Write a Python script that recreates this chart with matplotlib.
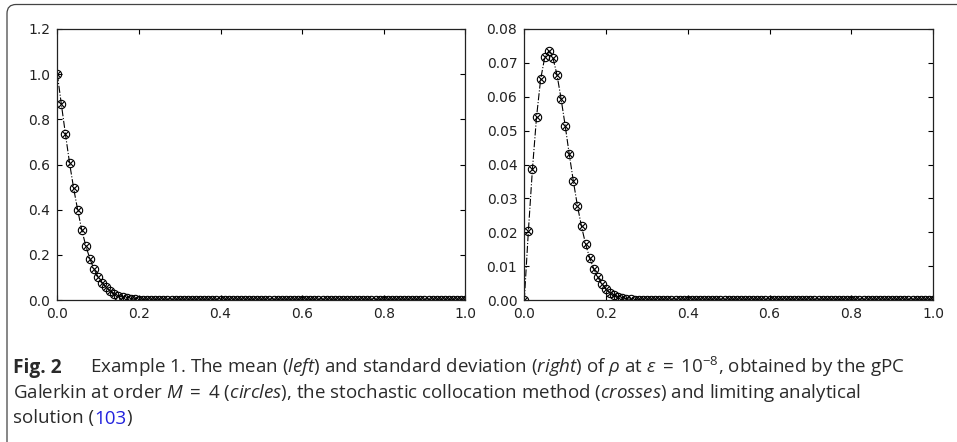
import numpy as np
import matplotlib
matplotlib.use("Agg")
import matplotlib.pyplot as plt
from matplotlib.patches import FancyBboxPatch
from matplotlib.transforms import IdentityTransform

plt.rcParams['mathtext.fontset'] = 'custom'
plt.rcParams['mathtext.rm'] = 'Open Sans'
plt.rcParams['mathtext.it'] = 'Open Sans:italic'
plt.rcParams['mathtext.bf'] = 'Open Sans:bold'

# grid of x points (step 0.01 on [0, 1])
x_grid = np.linspace(0.0, 1.0, 101)

# mean of rho (left panel)
mean_rho = [
    1.000, 0.866, 0.734, 0.607, 0.495, 0.398, 0.310, 0.239, 0.182, 0.136,
    0.103, 0.077, 0.056, 0.040, 0.028, 0.019, 0.013, 0.008, 0.005, 0.003,
    0.002, 0.001, 0.0005, 0.0002, 0.0001, 0.0, 0.0, 0.0, 0.0, 0.0,
    0.0, 0.0, 0.0, 0.0, 0.0, 0.0, 0.0, 0.0, 0.0, 0.0,
    0.0, 0.0, 0.0, 0.0, 0.0, 0.0, 0.0, 0.0, 0.0, 0.0,
    0.0, 0.0, 0.0, 0.0, 0.0, 0.0, 0.0, 0.0, 0.0, 0.0,
    0.0, 0.0, 0.0, 0.0, 0.0, 0.0, 0.0, 0.0, 0.0, 0.0,
    0.0, 0.0, 0.0, 0.0, 0.0, 0.0, 0.0, 0.0, 0.0, 0.0,
    0.0, 0.0, 0.0, 0.0, 0.0, 0.0, 0.0, 0.0, 0.0, 0.0,
    0.0, 0.0, 0.0, 0.0, 0.0, 0.0, 0.0, 0.0, 0.0, 0.0,
    0.0,
]

# standard deviation of rho (right panel)
std_rho = [
    0.0, 0.0204, 0.0388, 0.0541, 0.0652, 0.0716, 0.0735, 0.0715, 0.0665, 0.0594,
    0.0515, 0.0430, 0.0351, 0.0278, 0.0217, 0.0165, 0.0124, 0.0092, 0.0067, 0.0047,
    0.0031, 0.0022, 0.0014, 0.0009, 0.0005, 0.0003, 0.0002, 0.0001, 0.0, 0.0,
    0.0, 0.0, 0.0, 0.0, 0.0, 0.0, 0.0, 0.0, 0.0, 0.0,
    0.0, 0.0, 0.0, 0.0, 0.0, 0.0, 0.0, 0.0, 0.0, 0.0,
    0.0, 0.0, 0.0, 0.0, 0.0, 0.0, 0.0, 0.0, 0.0, 0.0,
    0.0, 0.0, 0.0, 0.0, 0.0, 0.0, 0.0, 0.0, 0.0, 0.0,
    0.0, 0.0, 0.0, 0.0, 0.0, 0.0, 0.0, 0.0, 0.0, 0.0,
    0.0, 0.0, 0.0, 0.0, 0.0, 0.0, 0.0, 0.0, 0.0, 0.0,
    0.0, 0.0, 0.0, 0.0, 0.0, 0.0, 0.0, 0.0, 0.0, 0.0,
    0.0,
]

left_yticks = [0.0, 0.2, 0.4, 0.6, 0.8, 1.0, 1.2]
right_yticks = [0.00, 0.01, 0.02, 0.03, 0.04, 0.05, 0.06, 0.07, 0.08]
xticks = [0.0, 0.2, 0.4, 0.6, 0.8, 1.0]

W, H = 957, 442
fig = plt.figure(figsize=(W / 100, H / 100), dpi=100)

# rounded frame around the figure + caption
frame = FancyBboxPatch((7, -20), 1000, 437.5 + 20, boxstyle="round,pad=0,rounding_size=9",
                       transform=IdentityTransform(), fill=False, ec='#444444', lw=0.9)
fig.patches.append(frame)

ax1 = fig.add_axes([57.3 / W, 1 - 300 / H, 408 / W, 271 / H])
ax2 = fig.add_axes([524.3 / W, 1 - 300 / H, 408.7 / W, 271 / H])


def draw_panel(ax, y, yticks, fmt):
    ax.plot(x_grid, y, linestyle='-.', color='black', lw=0.8)
    ax.plot(x_grid, y, linestyle='none', marker='o', ms=6.0, mfc='none', mec='black', mew=0.8)
    ax.plot(x_grid, y, linestyle='none', marker='x', ms=4.0, mec='black', mew=0.8)
    ax.set_xlim(0, 1)
    ax.set_ylim(yticks[0], yticks[-1])
    ax.set_xticks(xticks)
    ax.set_xticklabels(['%.1f' % t for t in xticks])
    ax.set_yticks(yticks)
    ax.set_yticklabels([fmt % t for t in yticks])
    ax.tick_params(direction='in', top=True, right=True, length=3.5, width=0.8,
                   labelsize=10, pad=5, labelcolor='#222222')
    for s in ax.spines.values():
        s.set_linewidth(0.9)
        s.set_color('#222222')


draw_panel(ax1, mean_rho, left_yticks, '%.1f')
draw_panel(ax2, std_rho, right_yticks, '%.2f')

# caption
cap_color = '#2a2a2a'
fs = 13.5
fig.text(13 / W, 1 - 372.7 / H, 'Fig. 2', fontsize=fs + 0.3, color=cap_color, fontweight='bold',
         va='baseline', family='Open Sans')
fig.text(90 / W, 1 - 372.7 / H,
         r'Example 1. The mean ($\mathit{left}$) and standard deviation ($\mathit{right}$) of $\rho$ at '
         r'$\varepsilon\;=\;10^{-8}$, obtained by the gPC',
         fontsize=fs, color=cap_color, va='baseline', family='Open Sans')
fig.text(13 / W, 1 - 398.3 / H,
         r'Galerkin at order $M\;=\;4$ ($\mathit{circles}$), the stochastic collocation method '
         r'($\mathit{crosses}$) and limiting analytical',
         fontsize=fs, color=cap_color, va='baseline', family='Open Sans')
t3 = fig.text(13 / W, 1 - 423.5 / H, 'solution (', fontsize=fs, color=cap_color,
              va='baseline', family='Open Sans')
renderer = fig.canvas.get_renderer()
bb = t3.get_window_extent(renderer)
t4 = fig.text(bb.x1 / W, 1 - 423.5 / H, '103', fontsize=fs, color='#2222dd',
              va='baseline', family='Open Sans')
bb = t4.get_window_extent(renderer)
fig.text(bb.x1 / W, 1 - 423.5 / H, ')', fontsize=fs, color=cap_color,
         va='baseline', family='Open Sans')

fig.savefig('out.png', dpi=100)
